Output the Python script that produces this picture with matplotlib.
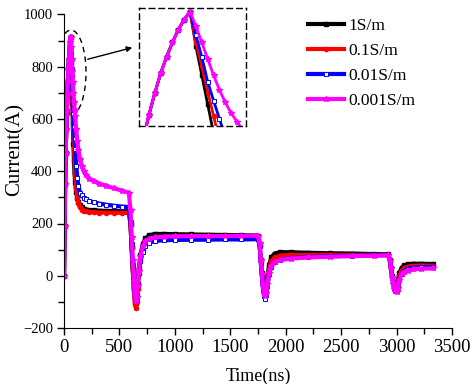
import matplotlib
matplotlib.use("Agg")
import matplotlib.pyplot as plt
from matplotlib.patches import Ellipse
from matplotlib.ticker import MultipleLocator

plt.rcParams['font.family'] = ['Liberation Serif', 'DejaVu Serif']

# time axis (ns)
time_ns = [0, 5, 10, 15, 20, 25, 30, 35, 40, 45, 50, 55, 60,
           65, 70, 75, 80, 85, 90, 95, 100, 110, 120, 130, 145, 160, 180, 200, 230, 270, 320, 380, 450, 520, 585,
           600, 610, 620, 630, 640, 648, 656, 665, 675, 690, 710, 735, 770, 820, 900, 1000, 1150, 1300, 1450, 1600, 1750,
           1765, 1775, 1785, 1795, 1805, 1815, 1825, 1835, 1850, 1870, 1900, 1950, 2050, 2200, 2400, 2600, 2800, 2925,
           2940, 2950, 2960, 2970, 2980, 2990, 3000, 3010, 3025, 3045, 3070, 3100, 3150, 3220, 3330]

cur_1 = [0, 190, 350, 470, 560, 630, 690, 745, 790, 830, 865, 893, 915,
         820, 740, 660, 580, 505, 440, 395, 360, 320, 298, 283, 270, 262, 256, 253, 251, 250, 249, 248, 248, 247, 247,
         200, 110, 30, -45, -95, -105, -80, -30, 25, 80, 120, 143, 155, 160, 160, 159, 158, 157, 156, 155, 154,
         120, 60, 10, -30, -52, -58, -40, -5, 40, 70, 85, 90, 90, 88, 86, 85, 83, 82,
         60, 30, 0, -22, -38, -45, -42, -20, 10, 30, 40, 44, 46, 46, 45]

cur_01 = [0, 190, 350, 470, 560, 630, 690, 745, 790, 830, 865, 893, 915,
          828, 765, 695, 628, 560, 495, 440, 395, 335, 298, 278, 262, 253, 248, 246, 244, 243, 242, 242, 241, 241, 240,
          195, 105, 20, -55, -110, -122, -100, -50, 5, 60, 100, 122, 135, 140, 143, 144, 144, 144, 143, 143, 142,
          115, 55, 5, -35, -60, -68, -50, -15, 25, 55, 70, 77, 80, 80, 80, 80, 80, 80,
          58, 28, -3, -27, -44, -52, -50, -30, 0, 20, 30, 35, 38, 39, 38]

cur_001 = [0, 190, 350, 470, 560, 630, 690, 745, 790, 830, 865, 893, 915,
           850, 790, 722, 670, 620, 570, 525, 485, 420, 375, 345, 318, 308, 298, 292, 286, 281, 276, 272, 268, 265, 263,
           205, 120, 40, -30, -80, -92, -75, -35, 10, 55, 92, 115, 127, 133, 136, 137, 138, 138, 139, 139, 140,
           115, 50, -5, -50, -78, -88, -75, -40, 5, 35, 52, 62, 68, 72, 75, 77, 78, 79,
           58, 26, -6, -32, -50, -59, -60, -45, -12, 8, 20, 27, 31, 33, 34]

cur_0001 = [0, 190, 350, 470, 560, 630, 690, 745, 790, 830, 865, 893, 915,
            875, 830, 785, 740, 700, 665, 635, 612, 560, 515, 480, 445, 420, 400, 387, 372, 362, 352, 345, 335, 326, 318,
            250, 150, 60, -20, -75, -95, -80, -35, 20, 75, 112, 132, 142, 147, 150, 151, 152, 152, 152, 153, 153,
            125, 60, 5, -40, -68, -78, -65, -30, 10, 38, 52, 60, 66, 70, 73, 75, 77, 78,
            60, 28, -5, -30, -50, -60, -62, -48, -15, 5, 15, 20, 24, 27, 28]

labels = ['1S/m', '0.1S/m', '0.01S/m', '0.001S/m']
series = [cur_1, cur_01, cur_001, cur_0001]
styles = [dict(color='black', marker='s', ms=2.5, mfc='black'),
          dict(color='red', marker='o', ms=3, mfc='red'),
          dict(color='blue', marker='s', ms=3, mfc='white', mew=0.7),
          dict(color='magenta', marker='*', ms=4, mfc='magenta')]

fig = plt.figure(figsize=(4.71, 3.84), dpi=100)
ax = fig.add_axes([64/471, 1-328/384, (452-64)/471, (328-14.5)/384])

for y, lab, st in zip(series, labels, styles):
    ax.plot(time_ns, y, lw=3, label=lab, **st)

ax.set_xlim(0, 3500)
ax.set_ylim(-200, 1000)
ax.xaxis.set_major_locator(MultipleLocator(500))
ax.xaxis.set_minor_locator(MultipleLocator(250))
ax.yaxis.set_major_locator(MultipleLocator(200))
ax.yaxis.set_minor_locator(MultipleLocator(100))
ax.tick_params(which='major', direction='out', length=5, width=1, pad=3)
ax.tick_params(which='minor', direction='out', length=4, width=1)
ax.tick_params(axis='x', labelsize=13.5)
ax.tick_params(axis='y', labelsize=10.5)
ax.spines['top'].set_visible(False)
ax.spines['right'].set_visible(False)
ax.set_xlabel('Time(ns)', fontsize=13, labelpad=8)
fig.text(15/471, 1-150/384, 'Current(A)', rotation=90, ha='center', va='center', fontsize=15)

leg = ax.legend(loc='upper left', bbox_to_anchor=(308/471, 1-18/384),
                bbox_transform=fig.transFigure, frameon=False, fontsize=12.5,
                handlelength=2.1, handletextpad=0.25, labelspacing=0.5,
                borderpad=0, borderaxespad=0, markerscale=1.0)

# dashed ellipse around the peak
ell = Ellipse((63, 778), width=271, height=325, fill=False, ls=(0, (4, 3)), lw=1, ec='black')
ax.add_patch(ell)
ax.annotate('', xy=(640, 876), xytext=(190, 826),
            arrowprops=dict(arrowstyle='-|>', color='black', lw=1, mutation_scale=8))

# inset
axin = fig.add_axes([139/471, 1-126/384, 107/471, 118/384])
for y, st in zip(series, styles):
    axin.plot(time_ns, y, lw=2, **st)
axin.set_xlim(16.6, 107.6)
axin.set_ylim(600, 925)
axin.set_xticks([])
axin.set_yticks([])
for sp in axin.spines.values():
    sp.set_linestyle((0, (4, 3)))
    sp.set_linewidth(1)

fig.savefig('out.png', dpi=100)
